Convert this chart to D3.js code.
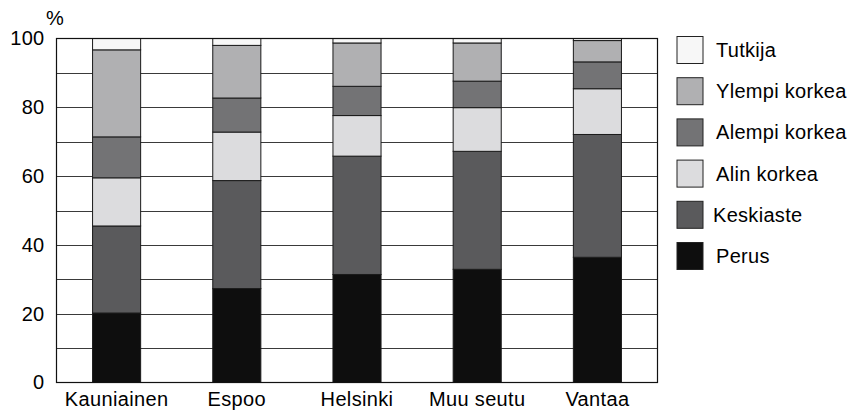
<!DOCTYPE html>
<html><head><meta charset="utf-8">
<script src="https://cdn.jsdelivr.net/npm/d3@7"></script>
<style>body{margin:0;background:#fff}svg{display:block}text{font-family:"Liberation Sans",Arial,Helvetica,sans-serif;fill:#000}</style>
</head><body><svg id="c" width="853" height="410"></svg>
<script>
const categories = ["Kauniainen","Espoo","Helsinki","Muu seutu","Vantaa"];
const seriesNames = ["Perus","Keskiaste","Alin korkea","Alempi korkea","Ylempi korkea","Tutkija"];
const perus        = [20.2, 27.3, 31.4, 32.9, 36.4];
const keskiaste    = [25.3, 31.4, 34.4, 34.3, 35.7];
const alinKorkea   = [14.0, 14.1, 11.8, 12.7, 13.3];
const alempiKorkea = [11.9,  9.9,  8.5,  7.7,  7.8];
const ylempiKorkea = [25.3, 15.3, 12.6, 11.1,  6.2];
const tutkija      = [ 3.3,  2.0,  1.3,  1.3,  0.6];
const yTicks = [0,20,40,60,80,100];
const colors = ["#0e0e0e","#5a5a5c","#dcdcde","#737375","#b0b0b2","#f7f7f7"];

const seriesValues = [perus,keskiaste,alinKorkea,alempiKorkea,ylempiKorkea,tutkija];
const rows = categories.map((c,i)=>{const r={cat:c}; seriesNames.forEach((s,j)=>r[s]=seriesValues[j][i]); return r;});
const stacked = d3.stack().keys(seriesNames)(rows);

const svg = d3.select("#c");
const L=56.5, R=657.5, T=38.5, B=382.5;
const FS = "20px";
const x = d3.scaleBand().domain(categories).range([L,R]).paddingInner(0.6).paddingOuter(0.3);
const y = d3.scaleLinear().domain([0,100]).range([B,T]);

// grid
svg.append("g").selectAll("line").data(d3.range(10,100,10)).join("line")
  .attr("x1",L).attr("x2",R).attr("y1",d=>Math.round(y(d))+0.5).attr("y2",d=>Math.round(y(d))+0.5)
  .attr("stroke","#3a3a3a").attr("stroke-width",1);

// bars
svg.append("g").selectAll("g").data(stacked).join("g")
  .attr("fill",(d,i)=>colors[i])
  .selectAll("rect").data(d=>d).join("rect")
  .attr("x",d=>x(d.data.cat)).attr("width",x.bandwidth())
  .attr("y",d=>y(d[1])).attr("height",d=>y(d[0])-y(d[1]))
  .attr("stroke","#1a1a1a").attr("stroke-width",1);

// frame
svg.append("rect").attr("x",L).attr("y",T).attr("width",R-L).attr("height",B-T)
  .attr("fill","none").attr("stroke","#111").attr("stroke-width",1.2);

// y axis
const ya = svg.append("g").attr("transform",`translate(${L},0)`)
  .call(d3.axisLeft(y).tickValues(yTicks).tickSize(0).tickPadding(12));
ya.select(".domain").remove();
ya.selectAll("text").style("font-size",FS).style("letter-spacing","0.3px")
  .style("font-family","'Liberation Sans',Arial,sans-serif").attr("fill","#000");

svg.append("text").attr("x",55).attr("y",25).attr("text-anchor","middle")
  .style("font-size",FS).text("%");

// x axis
const xa = svg.append("g").attr("transform",`translate(0,${B})`)
  .call(d3.axisBottom(x).tickSize(0).tickPadding(9));
xa.select(".domain").remove();
xa.selectAll("text").style("font-size",FS).style("letter-spacing","0.35px")
  .style("font-family","'Liberation Sans',Arial,sans-serif").attr("fill","#000");

// legend
const legendOrder = seriesNames.slice().reverse();
const lg = svg.append("g").selectAll("g").data(legendOrder).join("g")
  .attr("transform",(d,i)=>`translate(677,${36.5+i*41.2})`);
lg.append("rect").attr("width",26).attr("height",27)
  .attr("fill",d=>colors[seriesNames.indexOf(d)]).attr("stroke","#222").attr("stroke-width",1);
lg.append("text").attr("x",d=>d==="Keskiaste"?36:39).attr("y",13.5).attr("dy","0.35em")
  .style("font-size",FS).style("letter-spacing","0.3px").text(d=>d);
</script></body></html>
